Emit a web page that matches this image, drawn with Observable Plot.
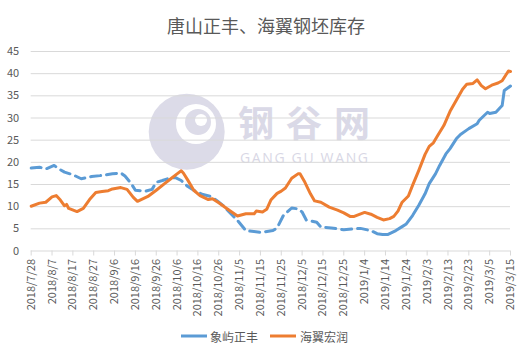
<!DOCTYPE html>
<html><head><meta charset="utf-8">
<script src="https://cdn.jsdelivr.net/npm/d3@7"></script>
<script src="https://cdn.jsdelivr.net/npm/@observablehq/plot@0.6"></script>
<style>body{margin:0;background:#fff;} svg{display:block}</style>
</head><body><div id="chart"></div>
<script>
const title = "唐山正丰、海翼钢坯库存";
const seriesNames = ["象屿正丰", "海翼宏润"];
const seriesColors = ["#5B9BD5", "#ED7D31"];
const xTickLabels = ["2018/7/28","2018/8/7","2018/8/17","2018/8/27","2018/9/6","2018/9/16","2018/9/26","2018/10/6","2018/10/16","2018/10/26","2018/11/5","2018/11/15","2018/11/25","2018/12/5","2018/12/15","2018/12/25","2019/1/4","2019/1/14","2019/1/24","2019/2/3","2019/2/13","2019/2/23","2019/3/5","2019/3/15"];
const yTicks = [0,5,10,15,20,25,30,35,40,45];

// 象屿正丰 (dashed until blueSolidFrom, solid afterwards)
const blueDates = ["2018-07-28","2018-08-01","2018-08-04","2018-08-08","2018-08-10","2018-08-13","2018-08-17","2018-08-21","2018-08-26","2018-08-30","2018-09-05","2018-09-09","2018-09-11","2018-09-14","2018-09-16","2018-09-21","2018-09-24","2018-09-26","2018-09-29","2018-10-02","2018-10-05","2018-10-08","2018-10-11","2018-10-14","2018-10-18","2018-10-22","2018-10-25","2018-10-28","2018-10-31","2018-11-04","2018-11-08","2018-11-15","2018-11-21","2018-11-23","2018-11-26","2018-11-30","2018-12-03","2018-12-05","2018-12-07","2018-12-12","2018-12-14","2018-12-19","2018-12-25","2019-01-02","2019-01-07","2019-01-10","2019-01-13","2019-01-15","2019-01-19","2019-01-22","2019-01-24","2019-01-27","2019-01-30","2019-02-02","2019-02-04","2019-02-07","2019-02-09","2019-02-12","2019-02-14","2019-02-17","2019-02-19","2019-02-23","2019-02-27","2019-02-28","2019-03-04","2019-03-05","2019-03-08","2019-03-11","2019-03-12","2019-03-15"];
const blueValues = [18.7,18.9,18.5,19.3,18.6,17.8,17.2,16.3,16.8,17.0,17.4,17.6,16.9,15.2,13.7,13.5,13.9,15.5,15.9,16.4,16.6,15.9,14.6,13.7,12.8,12.3,11.4,10.3,8.8,6.9,4.6,4.2,4.6,5.2,8.0,9.7,9.5,8.8,7.0,6.5,5.4,5.2,4.8,5.1,4.6,3.9,3.7,3.7,4.6,5.5,6.1,8.0,10.3,12.9,15.2,17.4,19.3,21.9,23.1,25.3,26.3,27.6,28.7,29.5,31.3,31.0,31.3,32.8,36.2,37.2];
const blueSolidFrom = "2019-01-13";

// 海翼宏润
const orangeDates = ["2018-07-28","2018-08-01","2018-08-04","2018-08-07","2018-08-09","2018-08-11","2018-08-13","2018-08-14","2018-08-15","2018-08-19","2018-08-22","2018-08-25","2018-08-28","2018-08-31","2018-09-03","2018-09-05","2018-09-09","2018-09-12","2018-09-15","2018-09-17","2018-09-22","2018-09-26","2018-09-30","2018-10-03","2018-10-06","2018-10-08","2018-10-09","2018-10-11","2018-10-14","2018-10-17","2018-10-21","2018-10-23","2018-10-26","2018-10-31","2018-11-04","2018-11-08","2018-11-12","2018-11-13","2018-11-16","2018-11-18","2018-11-20","2018-11-23","2018-11-25","2018-11-27","2018-11-30","2018-12-03","2018-12-04","2018-12-06","2018-12-09","2018-12-11","2018-12-14","2018-12-18","2018-12-22","2018-12-25","2018-12-28","2018-12-30","2019-01-04","2019-01-07","2019-01-10","2019-01-13","2019-01-16","2019-01-18","2019-01-20","2019-01-22","2019-01-25","2019-01-27","2019-01-30","2019-02-02","2019-02-04","2019-02-06","2019-02-08","2019-02-11","2019-02-14","2019-02-17","2019-02-20","2019-02-22","2019-02-25","2019-02-27","2019-03-01","2019-03-03","2019-03-06","2019-03-09","2019-03-11","2019-03-14","2019-03-15"];
const orangeValues = [10.1,10.8,11.0,12.2,12.5,11.5,10.2,10.5,9.6,8.9,9.6,11.6,13.2,13.4,13.6,14.0,14.3,13.9,12.1,11.2,12.3,13.7,15.2,16.3,17.4,18.1,17.6,16.1,13.7,12.5,11.6,11.8,10.9,9.2,7.9,8.4,8.4,9.0,8.8,9.4,11.5,13.0,13.5,14.2,16.4,17.4,17.4,15.8,12.9,11.3,11.0,9.9,9.2,8.6,7.8,7.8,8.7,8.3,7.6,7.0,7.3,7.8,9.0,11.0,12.4,14.8,18.2,21.8,23.6,24.4,26.0,28.3,31.5,34.0,36.5,37.6,37.8,38.6,37.3,36.6,37.4,37.9,38.4,40.6,40.5];

const parseTick = d3.utcParse("%Y/%m/%d");
const fmt = d3.utcFormat("%Y/%-m/%-d");
const xTicks = xTickLabels.map(parseTick);
const blue = blueDates.map((d, i) => ({date: new Date(d), value: blueValues[i]}));
const split = new Date(blueSolidFrom);
const blueDashed = blue.filter(d => d.date <= split);
const blueSolid = blue.filter(d => d.date >= split);
const orange = orangeDates.map((d, i) => ({date: new Date(d), value: orangeValues[i]}));

const font = "'Noto Sans CJK SC', 'Noto Sans', sans-serif";
const chart = Plot.plot({
  width: 526, height: 356,
  marginTop: 51, marginBottom: 105.5, marginLeft: 30.7, marginRight: 16,
  x: {type: "utc", domain: [xTicks[0], xTicks[xTicks.length - 1]]},
  y: {domain: [0, 45]},
  style: {fontFamily: font, background: "#fff"},
  marks: [
    Plot.gridY(yTicks.filter(v => v > 0), {stroke: "#d9d9d9", strokeOpacity: 1}),
    Plot.axisY(yTicks, {tickSize: 0, tickPadding: 12, fontSize: 11, fill: "#595959", label: null}),
    Plot.ruleY([0], {stroke: "#d9d9d9"}),
    Plot.axisX(xTicks, {tickFormat: fmt, tickRotate: -90, tickSize: 5, tickPadding: 3, stroke: "#d9d9d9", fill: "#595959", fontSize: 11, label: null}),
    Plot.lineY(blueDashed, {x: "date", y: "value", stroke: seriesColors[0], strokeWidth: 3, strokeDasharray: "10,6", strokeLinecap: "round", strokeLinejoin: "round"}),
    Plot.lineY(blueSolid, {x: "date", y: "value", stroke: seriesColors[0], strokeWidth: 3, strokeLinejoin: "round"}),
    Plot.lineY(orange, {x: "date", y: "value", stroke: seriesColors[1], strokeWidth: 3, strokeLinejoin: "round"})
  ]
});
document.getElementById("chart").append(chart);

const svg = d3.select(chart);
// watermark behind everything
const wm = svg.insert("g", "g").attr("pointer-events", "none").attr("text-anchor", "start");
const lav = "#dcdbe8";
wm.append("circle").attr("cx", 186.7).attr("cy", 131.7).attr("r", 38).attr("fill", lav);
wm.append("circle").attr("cx", 196).attr("cy", 124).attr("r", 20).attr("fill", "#fff");
wm.append("circle").attr("cx", 198).attr("cy", 122).attr("r", 13).attr("fill", lav);
wm.append("circle").attr("cx", 201).attr("cy", 120).attr("r", 6).attr("fill", "#fff");
wm.append("text").attr("x", 238).attr("y", 137).attr("font-size", 36).attr("font-weight", 700).attr("fill", "#dad9e7")
  .attr("textLength", 132).attr("lengthAdjust", "spacing").text("钢谷网");
wm.append("text").attr("x", 240).attr("y", 163).attr("font-size", 14).attr("fill", "#d8d7e5")
  .attr("font-family", "'Open Sans', sans-serif")
  .attr("textLength", 128).attr("lengthAdjust", "spacing").text("GANG GU WANG");

// title
svg.append("text").attr("x", 266).attr("y", 25).attr("text-anchor", "middle")
  .attr("dominant-baseline", "central").attr("font-size", 18).attr("fill", "#595959").text(title);

// legend
const leg = svg.append("g").attr("font-size", 12).attr("fill", "#595959").attr("text-anchor", "start");
const legItems = [{x: 181, tx: 210}, {x: 270, tx: 300}];
legItems.forEach((it, i) => {
  leg.append("line").attr("x1", it.x).attr("x2", it.x + 26).attr("y1", 336).attr("y2", 336)
    .attr("stroke", seriesColors[i]).attr("stroke-width", 3);
  leg.append("text").attr("x", it.tx).attr("y", 336).attr("dominant-baseline", "central").text(seriesNames[i]);
});
</script></body></html>
